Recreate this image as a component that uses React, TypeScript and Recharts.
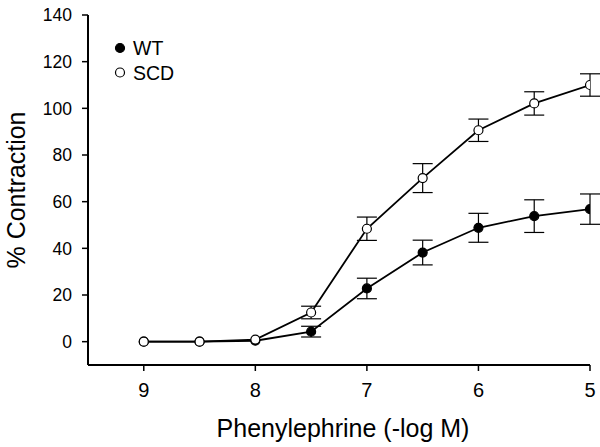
import React from 'react';
import { ComposedChart, Line, XAxis, YAxis, ErrorBar } from 'recharts';

const doses = [9, 8.5, 8, 7.5, 7, 6.5, 6, 5.5, 5];
const wtMean = [0, 0, 0.4, 4.3, 22.8, 38.2, 48.8, 53.8, 56.8];
const wtErr = [0, 0, 0, 2.3, 4.4, 5.3, 6.2, 7, 6.5];
const scdMean = [0, 0, 0.9, 12.5, 48.4, 70.1, 90.6, 102.1, 110];
const scdErr = [0, 0, 0, 2.7, 5, 6.2, 4.8, 5, 4.8];
const xTicks = [9, 8, 7, 6, 5];
const yTicks = [0, 20, 40, 60, 80, 100, 120, 140];
const seriesNames = ['WT', 'SCD'];
const xTitle = 'Phenylephrine (-log M)';
const yTitle = '% Contraction';

const wtData = doses.map((x, i) => ({ x, y: wtMean[i], e: wtErr[i] }));
const scdData = doses.map((x, i) => ({ x, y: scdMean[i], e: scdErr[i] }));

const FONT = '"Liberation Sans", Arial, sans-serif';

const Dot = (fill: string) => (props: any) => {
  const { cx, cy, index } = props;
  if (cx == null || cy == null) return null;
  return <circle key={`d-${fill}-${index}`} cx={cx} cy={cy} r={4.5} fill={fill} stroke="#000" strokeWidth={1.2} />;
};

export default function App() {
  return (
    <div style={{ position: 'absolute', left: 0, top: 0, width: 600, height: 447, background: '#fff' }}>
      <ComposedChart width={600} height={447} margin={{ top: 15, right: 10, bottom: 0, left: 0 }}>
        <XAxis
          type="number"
          dataKey="x"
          domain={[5, 9.5]}
          reversed
          ticks={xTicks}
          allowDataOverflow
          height={82}
          stroke="#000"
          axisLine={{ stroke: '#000', strokeWidth: 2 }}
          tickLine={{ stroke: '#000', strokeWidth: 1.5 }}
          tickSize={6}
          tick={{ fill: '#000', fontSize: 20, fontFamily: FONT }}
          tickMargin={12}
        />
        <YAxis
          type="number"
          dataKey="y"
          domain={[-10, 140]}
          ticks={yTicks}
          allowDataOverflow
          width={88}
          stroke="#000"
          axisLine={{ stroke: '#000', strokeWidth: 2 }}
          tickLine={{ stroke: '#000', strokeWidth: 1.5 }}
          tickSize={6}
          tick={{ fill: '#000', fontSize: 17.5, fontFamily: FONT }}
          tickMargin={10}
        />
        <Line
          data={wtData}
          dataKey="y"
          name={seriesNames[0]}
          stroke="#000"
          strokeWidth={1.8}
          isAnimationActive={false}
          dot={Dot('#000')}
          activeDot={false}
        >
          <ErrorBar dataKey="e" width={10} stroke="#000" strokeWidth={1.2} direction="y" />
        </Line>
        <Line
          data={scdData}
          dataKey="y"
          name={seriesNames[1]}
          stroke="#000"
          strokeWidth={1.8}
          isAnimationActive={false}
          dot={Dot('#fff')}
          activeDot={false}
        >
          <ErrorBar dataKey="e" width={10} stroke="#000" strokeWidth={1.2} direction="y" />
        </Line>
        <g>
          <text x={343} y={437} textAnchor="middle" fontSize={25} fontFamily={FONT} fill="#000">{xTitle}</text>
          <text x={25} y={190} transform="rotate(-90 25 190)" textAnchor="middle" fontSize={25} fontFamily={FONT} fill="#000">{yTitle}</text>
          <circle cx={120} cy={48} r={4.5} fill="#000" stroke="#000" strokeWidth={1.2} />
          <text x={133} y={48} dominantBaseline="central" fontSize={19.5} fontFamily={FONT} fill="#000">{seriesNames[0]}</text>
          <circle cx={120} cy={72.5} r={4.5} fill="#fff" stroke="#000" strokeWidth={1.2} />
          <text x={133} y={72.5} dominantBaseline="central" fontSize={19.5} fontFamily={FONT} fill="#000">{seriesNames[1]}</text>
        </g>
      </ComposedChart>
    </div>
  );
}
